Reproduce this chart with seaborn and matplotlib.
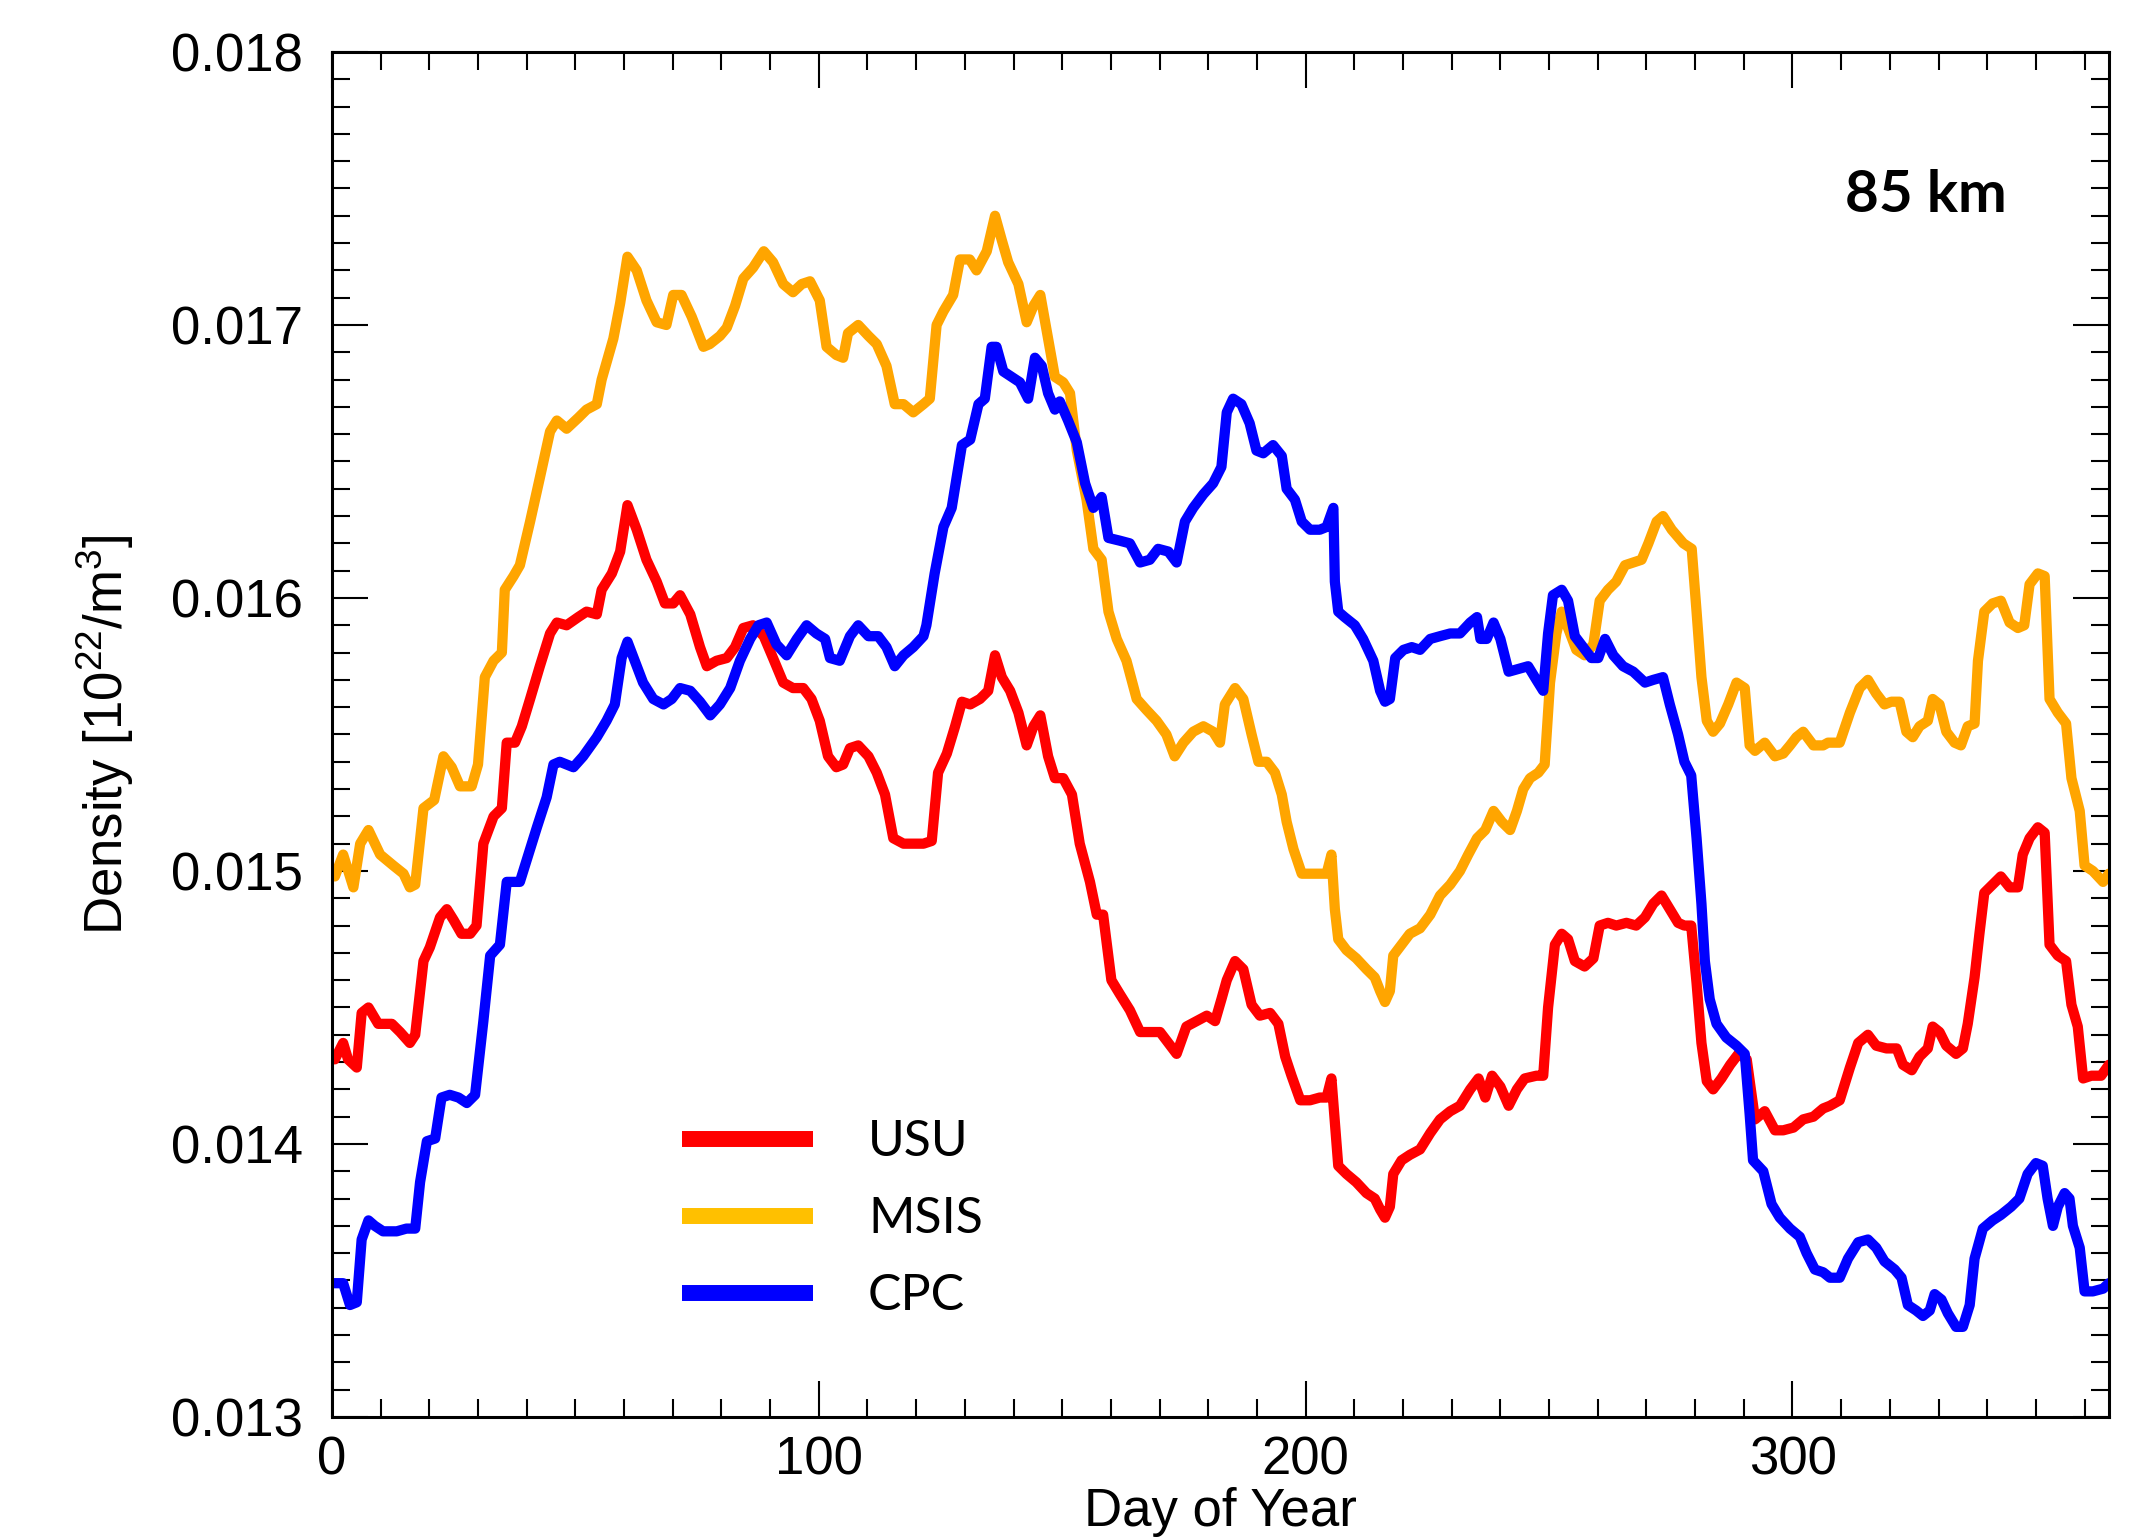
import numpy as np
import pandas as pd
import matplotlib
matplotlib.use("Agg")
import matplotlib.pyplot as plt
from matplotlib.lines import Line2D
from matplotlib.ticker import MultipleLocator, FormatStrFormatter
import seaborn as sns

###################### DATA #################################################
usu_day = [0.6, 2.3, 3.3, 5.1, 6.1, 7.5, 9.5, 12.3, 14.0, 16.0, 17.1, 18.8, 20.1, 22.2, 23.6, 25.0, 26.6, 28.4,
           29.7, 31.1, 33.2, 34.9, 35.9, 37.6, 39.0, 40.7, 42.7, 44.8, 46.2, 48.2, 50.6, 52.3, 54.4, 55.4, 57.5,
           59.2, 60.7, 62.6, 64.6, 66.7, 68.4, 70.1, 71.5, 73.6, 75.6, 77.0, 79.0, 81.1, 82.8, 84.5, 86.5, 88.7,
           90.6, 92.7, 94.7, 96.8, 98.5, 100.2, 101.9, 103.6, 105.0, 106.4, 108.1, 110.2, 111.9, 113.6, 115.3,
           117.4, 119.4, 121.5, 123.2, 124.5, 126.3, 128.0, 129.4, 131.1, 133.1, 134.8, 136.2, 137.6, 139.3, 141.0,
           142.7, 144.1, 145.5, 147.1, 148.5, 150.2, 152.0, 153.6, 155.7, 157.1, 158.4, 160.1, 161.8, 163.9, 166.0,
           168.0, 170.1, 171.8, 173.5, 175.5, 177.6, 179.7, 181.4, 182.7, 183.8, 185.5, 187.2, 188.9, 190.6, 192.7,
           194.4, 195.8, 197.1, 198.9, 200.9, 202.9, 204.3, 205.3, 206.0, 206.7, 208.4, 210.4, 212.5, 214.2, 215.3,
           216.3, 217.3, 218.0, 219.7, 221.4, 223.5, 225.6, 227.6, 229.7, 231.7, 233.8, 235.5, 236.9, 238.3, 240.0,
           241.7, 243.4, 245.0, 247.4, 248.8, 249.8, 251.2, 252.6, 253.9, 255.3, 257.3, 259.1, 260.4, 262.1, 263.8,
           265.9, 267.9, 269.7, 271.4, 273.1, 274.8, 276.5, 277.8, 279.2, 280.3, 281.3, 282.4, 283.7, 285.4, 287.2,
           288.9, 290.6, 291.6, 292.3, 294.3, 296.4, 298.1, 300.2, 302.2, 304.3, 306.3, 307.7, 309.7, 311.8, 313.5,
           315.5, 317.2, 319.3, 321.4, 322.7, 324.5, 326.1, 327.8, 328.8, 330.2, 331.6, 333.6, 335.0, 336.0, 337.4,
           338.4, 339.4, 341.1, 342.8, 344.6, 346.3, 347.3, 348.7, 350.4, 351.8, 352.8, 354.5, 356.2, 357.3, 358.6,
           359.7, 361.4, 363.4, 365.0]
usu_val = [.01431, .01437, .01431, .01428, .01448, .01450, .01444, .01444, .01441, .01437, .01440, .01467, .01472,
           .01483, .01486, .01482, .01477, .01477, .01480, .01510, .01520, .01523, .01547, .01547, .01553, .01563,
           .01575, .01587, .01591, .01590, .01593, .01595, .01594, .01603, .01609, .01617, .01634, .01625, .01614,
           .01606, .01598, .01598, .01601, .01594, .01582, .01575, .01577, .01578, .01582, .01589, .01590, .01586,
           .01578, .01569, .01567, .01567, .01563, .01555, .01542, .01538, .01539, .01545, .01546, .01542, .01536,
           .01528, .01512, .01510, .01510, .01510, .01511, .01536, .01543, .01553, .01562, .01561, .01563, .01566,
           .01579, .01571, .01566, .01558, .01546, .01553, .01557, .01542, .01534, .01534, .01528, .01510, .01496,
           .01484, .01484, .01460, .01455, .01449, .01441, .01441, .01441, .01437, .01433, .01443, .01445, .01447,
           .01445, .01453, .01460, .01467, .01464, .01451, .01447, .01448, .01444, .01432, .01425, .01416, .01416,
           .01417, .01417, .01424, .01408, .01392, .01389, .01386, .01382, .01380, .01376, .01373, .01377, .01389,
           .01394, .01396, .01398, .01404, .01409, .01412, .01414, .01420, .01424, .01417, .01425, .01421, .01414,
           .01420, .01424, .01425, .01425, .01450, .01473, .01477, .01475, .01467, .01465, .01468, .01480, .01481,
           .01480, .01481, .01480, .01483, .01488, .01491, .01486, .01481, .01480, .01480, .01459, .01437, .01423,
           .01420, .01424, .01429, .01433, .01431, .01418, .01409, .01412, .01405, .01405, .01406, .01409, .01410,
           .01413, .01414, .01416, .01428, .01437, .01440, .01436, .01435, .01435, .01429, .01427, .01432, .01435,
           .01443, .01441, .01436, .01433, .01435, .01444, .01461, .01477, .01492, .01495, .01498, .01494, .01494,
           .01506, .01512, .01516, .01514, .01473, .01469, .01467, .01451, .01443, .01424, .01425, .01425, .01429]

msis_day = [0.6, 2.3, 4.4, 5.8, 7.5, 9.9, 12.6, 14.7, 16.0, 17.1, 18.8, 21.0, 22.9, 24.6, 26.3, 28.7, 30.0, 31.4,
            33.2, 34.9, 35.5, 37.3, 38.6, 40.7, 42.7, 44.8, 46.2, 48.2, 50.6, 52.3, 54.4, 55.4, 57.8, 59.2, 60.7,
            62.6, 64.6, 66.7, 68.7, 70.1, 71.8, 73.9, 76.3, 77.6, 79.7, 81.1, 82.8, 84.5, 86.5, 88.7, 90.6, 92.7,
            94.7, 96.5, 98.2, 100.2, 101.6, 103.6, 105.0, 106.0, 108.1, 110.2, 111.9, 113.9, 115.6, 117.4, 119.4,
            121.5, 122.8, 124.2, 125.6, 127.6, 129.0, 131.0, 132.4, 134.5, 136.2, 137.6, 138.9, 141.0, 142.7, 144.1,
            145.5, 147.1, 148.5, 150.2, 151.6, 153.0, 155.0, 156.4, 158.1, 159.5, 161.2, 163.2, 165.3, 167.3, 169.4,
            171.4, 173.1, 174.9, 176.9, 179.0, 181.0, 182.4, 183.4, 185.5, 187.2, 188.9, 190.3, 192.0, 193.7, 195.1,
            196.1, 197.5, 199.2, 200.9, 202.9, 204.3, 205.3, 206.0, 206.7, 208.4, 210.4, 212.5, 214.2, 215.3, 216.3,
            217.3, 218.0, 219.7, 221.4, 223.5, 225.6, 227.6, 229.7, 231.7, 233.4, 235.2, 236.9, 238.6, 240.3, 242.0,
            243.4, 244.7, 246.1, 247.8, 249.1, 250.2, 251.5, 252.6, 253.9, 255.6, 257.3, 259.1, 260.4, 262.1, 263.8,
            265.6, 267.3, 269.0, 270.4, 272.1, 273.4, 275.2, 277.6, 279.3, 280.3, 281.3, 282.4, 283.7, 285.1, 286.8,
            288.5, 290.2, 291.2, 292.3, 294.3, 296.4, 298.1, 299.5, 300.8, 302.2, 304.3, 306.3, 307.3, 309.7, 311.8,
            313.8, 315.5, 317.2, 318.9, 320.3, 322.0, 323.4, 324.7, 326.1, 327.8, 328.8, 330.2, 331.6, 333.3, 334.6,
            336.0, 337.4, 338.1, 339.4, 341.1, 342.8, 344.6, 346.3, 347.6, 348.7, 350.4, 351.8, 352.8, 354.5, 356.2,
            357.3, 359.0, 360.0, 361.7, 363.8, 365.0]
msis_val = [.01498, .01506, .01494, .01510, .01515, .01506, .01502, .01499, .01494, .01495, .01523, .01526, .01542,
            .01538, .01531, .01531, .01539, .01571, .01577, .01580, .01603, .01608, .01612, .01628, .01644, .01661,
            .01665, .01662, .01666, .01669, .01671, .01680, .01695, .01708, .01725, .01720, .01709, .01701, .01700,
            .01711, .01711, .01703, .01692, .01693, .01696, .01699, .01707, .01717, .01721, .01727, .01723, .01715,
            .01712, .01715, .01716, .01709, .01692, .01689, .01688, .01697, .01700, .01696, .01693, .01685, .01671,
            .01671, .01668, .01671, .01673, .01700, .01705, .01711, .01724, .01724, .01720, .01727, .01740, .01731,
            .01723, .01715, .01701, .01707, .01711, .01695, .01681, .01679, .01675, .01654, .01636, .01618, .01614,
            .01595, .01585, .01577, .01563, .01559, .01555, .01550, .01542, .01547, .01551, .01553, .01551, .01547,
            .01561, .01567, .01563, .01550, .01540, .01540, .01536, .01528, .01518, .01508, .01499, .01499, .01499,
            .01499, .01506, .01486, .01475, .01471, .01468, .01464, .01461, .01456, .01452, .01456, .01469, .01473,
            .01477, .01479, .01484, .01491, .01495, .01500, .01506, .01512, .01515, .01522, .01518, .01515, .01522,
            .01530, .01534, .01536, .01539, .01569, .01587, .01595, .01589, .01581, .01579, .01583, .01599, .01603,
            .01606, .01612, .01613, .01614, .01620, .01628, .01630, .01625, .01620, .01618, .01595, .01571, .01555,
            .01551, .01554, .01561, .01569, .01567, .01546, .01544, .01547, .01542, .01543, .01546, .01549, .01551,
            .01546, .01546, .01547, .01547, .01558, .01567, .01570, .01565, .01561, .01562, .01562, .01551, .01549,
            .01553, .01555, .01563, .01561, .01551, .01547, .01546, .01553, .01554, .01577, .01595, .01598, .01599,
            .01591, .01589, .01590, .01605, .01609, .01608, .01563, .01558, .01554, .01534, .01522, .01502, .01500,
            .01496, .01499]

cpc_day = [0.3, 1.3, 2.3, 3.7, 5.1, 6.1, 7.5, 8.8, 10.5, 13.3, 15.3, 17.1, 18.1, 19.5, 21.2, 22.5, 24.2, 26.0, 27.7,
           29.4, 31.1, 32.5, 34.5, 35.9, 38.6, 40.0, 42.1, 44.1, 45.5, 46.8, 49.6, 51.6, 54.4, 56.4, 58.1, 59.5,
           60.7, 62.2, 63.9, 66.0, 68.1, 69.8, 71.5, 73.6, 75.6, 77.7, 79.7, 81.8, 83.8, 85.9, 87.6, 89.3, 91.3,
           93.4, 95.5, 97.5, 99.5, 101.3, 102.3, 104.3, 106.4, 108.1, 110.2, 112.2, 113.9, 115.6, 117.4, 119.4,
           121.5, 122.1, 123.8, 125.6, 127.3, 129.4, 131.1, 132.8, 134.1, 135.5, 136.5, 137.9, 139.6, 141.3, 143.0,
           144.4, 145.8, 147.1, 148.5, 149.5, 151.2, 153.0, 154.7, 156.4, 158.1, 159.5, 161.8, 163.9, 166.0, 168.0,
           169.7, 171.8, 173.5, 175.2, 176.9, 179.0, 181.0, 182.7, 183.8, 185.1, 186.8, 188.5, 189.9, 191.3, 193.3,
           195.1, 196.1, 197.8, 199.2, 200.9, 202.9, 204.3, 205.7, 206.0, 206.7, 208.0, 210.1, 211.8, 213.9, 215.3,
           216.3, 217.3, 218.4, 220.1, 221.8, 223.5, 225.6, 227.6, 229.7, 231.7, 233.8, 235.2, 235.9, 237.2, 238.6,
           240.0, 241.7, 243.7, 245.7, 247.4, 248.8, 249.8, 250.8, 252.6, 253.9, 255.3, 257.0, 258.7, 260.1, 261.5,
           263.2, 265.2, 267.3, 269.7, 271.4, 273.4, 274.8, 276.5, 277.8, 279.2, 280.3, 281.3, 282.0, 283.0, 284.4,
           286.4, 288.5, 290.2, 291.2, 291.9, 294.0, 295.7, 297.4, 299.5, 301.5, 302.9, 304.6, 306.3, 307.7, 309.7,
           311.4, 313.5, 315.5, 317.2, 318.9, 321.0, 322.4, 323.7, 325.4, 326.8, 328.2, 329.2, 330.6, 331.9, 333.6,
           335.0, 336.4, 337.4, 339.1, 341.1, 342.8, 344.9, 346.6, 348.3, 350.0, 351.4, 352.4, 353.5, 354.5, 355.9,
           356.9, 357.6, 359.0, 360.0, 361.7, 363.8, 365.0]
cpc_val = [.01349, .01349, .01349, .01341, .01342, .01365, .01372, .01370, .01368, .01368, .01369, .01369, .01386,
           .01401, .01402, .01417, .01418, .01417, .01415, .01418, .01445, .01469, .01473, .01496, .01496, .01504,
           .01516, .01527, .01539, .01540, .01538, .01542, .01549, .01555, .01561, .01578, .01584, .01577, .01569,
           .01563, .01561, .01563, .01567, .01566, .01562, .01557, .01561, .01567, .01577, .01585, .01590, .01591,
           .01583, .01579, .01585, .01590, .01587, .01585, .01578, .01577, .01586, .01590, .01586, .01586, .01582,
           .01575, .01579, .01582, .01586, .01590, .01609, .01626, .01633, .01656, .01658, .01671, .01673, .01692,
           .01692, .01683, .01681, .01679, .01673, .01688, .01685, .01675, .01669, .01672, .01665, .01657, .01642,
           .01633, .01637, .01622, .01621, .01620, .01613, .01614, .01618, .01617, .01613, .01628, .01633, .01638,
           .01642, .01648, .01668, .01673, .01671, .01664, .01654, .01653, .01656, .01652, .01640, .01636, .01628,
           .01625, .01625, .01626, .01633, .01606, .01595, .01593, .01590, .01585, .01577, .01566, .01562, .01563,
           .01578, .01581, .01582, .01581, .01585, .01586, .01587, .01587, .01591, .01593, .01585, .01585, .01591,
           .01585, .01573, .01574, .01575, .01570, .01566, .01587, .01601, .01603, .01599, .01586, .01582, .01578,
           .01578, .01585, .01579, .01575, .01573, .01569, .01570, .01571, .01561, .01550, .01540, .01535, .01512,
           .01488, .01467, .01453, .01444, .01439, .01436, .01433, .01411, .01394, .01390, .01378, .01373, .01369,
           .01366, .01360, .01354, .01353, .01351, .01351, .01358, .01364, .01365, .01362, .01357, .01354, .01351,
           .01341, .01339, .01337, .01339, .01345, .01343, .01338, .01333, .01333, .01341, .01358, .01369, .01372,
           .01374, .01377, .01380, .01389, .01393, .01392, .01380, .01370, .01377, .01382, .01380, .01370, .01362,
           .01346, .01346, .01347, .01349]

models = ["USU", "MSIS", "CPC"]
line_colors = {"USU": "#FF0000", "MSIS": "#FFA500", "CPC": "#0000FF"}
legend_colors = {"USU": "#FF0000", "MSIS": "#FFC000", "CPC": "#0000FF"}

df = pd.concat([
    pd.DataFrame({"day": usu_day, "density": usu_val, "model": "USU"}),
    pd.DataFrame({"day": msis_day, "density": msis_val, "model": "MSIS"}),
    pd.DataFrame({"day": cpc_day, "density": cpc_val, "model": "CPC"}),
], ignore_index=True)

###################### STYLE ###########################
sns.set_style("ticks", {"text.color": "black", "axes.labelcolor": "black",
                        "xtick.color": "black", "ytick.color": "black",
                        "axes.edgecolor": "black"})
plt.rcParams['font.family'] = ['Liberation Sans', 'DejaVu Sans']
plt.rcParams['mathtext.fontset'] = 'custom'
plt.rcParams['mathtext.rm'] = 'Liberation Sans'
plt.rcParams['mathtext.it'] = 'Liberation Sans:italic'

fig = plt.figure(figsize=(21.43, 15.38), dpi=100)
ax = fig.add_axes([0.1549, 0.0787, 0.8292, 0.8875])

sns.lineplot(data=df, x="day", y="density", hue="model", hue_order=models,
             palette=line_colors, estimator=None, sort=False, errorbar=None,
             linewidth=7.4, legend=False, ax=ax)

ax.set_xlim(0, 365)
ax.set_ylim(0.013, 0.018)
ax.set_xticks([0, 100, 200, 300])
ax.xaxis.set_minor_locator(MultipleLocator(10))
ax.yaxis.set_major_locator(MultipleLocator(0.001))
ax.yaxis.set_minor_locator(MultipleLocator(0.0001))
ax.yaxis.set_major_formatter(FormatStrFormatter('%.3f'))
ax.tick_params(which='both', direction='in', top=True, right=True,
               labelsize=38, width=1.5, colors='black')
ax.tick_params(which='major', length=26)
ax.tick_params(which='minor', length=13)
ax.tick_params(axis='y', pad=21)
ax.tick_params(axis='x', pad=13)
for sp in ax.spines.values():
    sp.set_linewidth(2.2)
    sp.set_color('black')

ax.set_xlabel("Day of Year", fontsize=38, color='black')
ax.set_ylabel("Density [10$^{22}$/m$^3$]", fontsize=38, color='black')
ax.xaxis.set_label_coords(0.5, -0.051)
ax.yaxis.set_label_coords(-0.11, 0.5)

ax.text(327.5, 0.017475, "85 km", ha='center', va='center', color='black',
        fontsize=42, fontweight='bold', family=['Lato', 'DejaVu Sans'])

handles = [Line2D([], [], color=legend_colors[m], linewidth=11.5, solid_capstyle='butt') for m in models]
leg = ax.legend(handles, models, loc='center left', bbox_to_anchor=(0.197, 0.1447),
                frameon=False, borderpad=0, borderaxespad=0, handlelength=2.62,
                handletextpad=1.1, labelspacing=0.62,
                prop={'family': ['Lato', 'DejaVu Sans'], 'size': 36})
for t in leg.get_texts():
    t.set_color('black')

fig.savefig("out.png", dpi=100)
